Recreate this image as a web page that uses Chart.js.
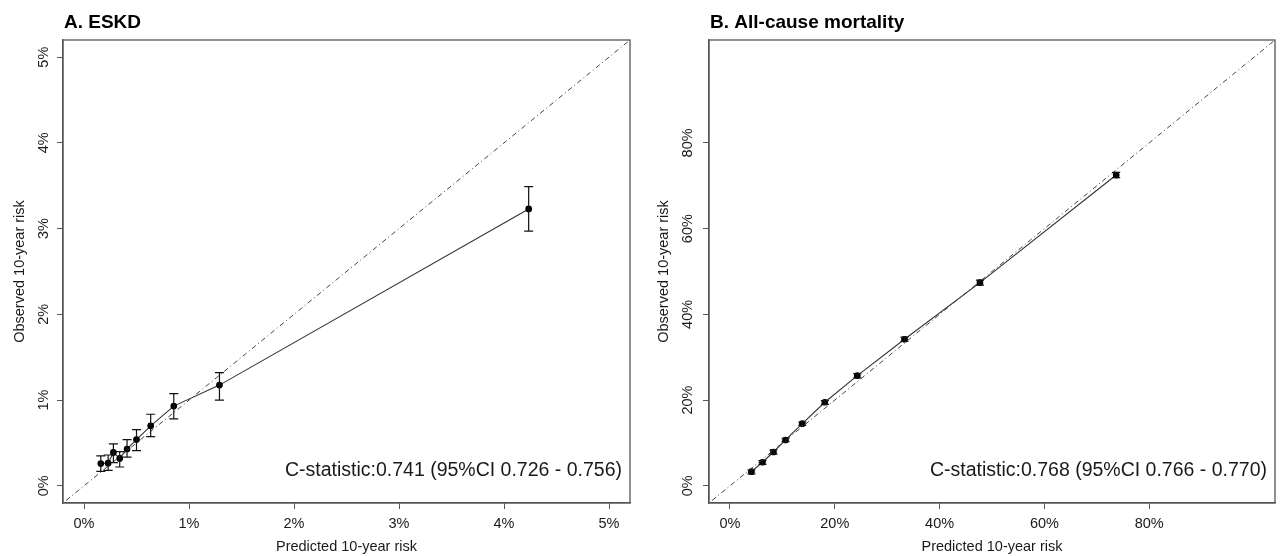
<!DOCTYPE html>
<html>
<head>
<meta charset="utf-8">
<script src="https://cdn.jsdelivr.net/npm/chart.js@4.4.1/dist/chart.umd.min.js"></script>
<style>
  html, body { margin: 0; padding: 0; background: #fff; }
  #wrap { position: relative; width: 1282px; height: 556px; }
  .panel { position: absolute; top: 0; width: 641px; height: 556px; }
</style>
</head>
<body>
<div id="wrap">
  <div class="panel" style="left:0"><canvas id="chartA"></canvas></div>
  <div class="panel" style="left:641px"><canvas id="chartB"></canvas></div>
</div>
<script>
// Panel A - ESKD (values in %)
const predA = [0.16, 0.23, 0.28, 0.34, 0.41, 0.50, 0.635, 0.855, 1.29, 4.235];
const obsA  = [0.26, 0.265, 0.39, 0.32, 0.43, 0.54, 0.70, 0.93, 1.175, 3.23];
const loA   = [0.17, 0.18, 0.27, 0.22, 0.335, 0.41, 0.575, 0.78, 1.00, 2.97];
const hiA   = [0.35, 0.36, 0.49, 0.40, 0.54, 0.655, 0.835, 1.075, 1.32, 3.49];
const ticksA = [0, 1, 2, 3, 4, 5];
const rangeA = [-0.2, 5.2];

// Panel B - all-cause mortality (values in %)
const predB = [4.1, 6.2, 8.3, 10.6, 13.8, 18.1, 24.3, 33.3, 47.7, 73.7];
const obsB  = [3.3, 5.5, 7.9, 10.7, 14.5, 19.5, 25.7, 34.2, 47.4, 72.5];
const loB   = [2.8, 5.0, 7.4, 10.3, 14.1, 19.0, 25.2, 33.7, 46.8, 71.9];
const hiB   = [3.7, 5.9, 8.4, 11.1, 14.9, 19.9, 26.2, 34.7, 48.0, 73.1];
const ticksB = [0, 20, 40, 60, 80];
const rangeB = [-4, 104];

const FONT = '"Liberation Sans", Arial, Helvetica, sans-serif';
const AXIS_COL = '#555';
const TEXT_COL = '#1a1a1a';

// error bars, box, panel title and c-statistic text
const calibExtras = {
  id: 'calibExtras',
  afterDatasetsDraw(chart) {
    const o = chart.options.plugins.calibExtras;
    const xs = chart.scales.x, ys = chart.scales.y;
    const ctx = chart.ctx;
    ctx.save();
    ctx.strokeStyle = '#111';
    ctx.lineWidth = 1.2;
    o.pred.forEach((p, i) => {
      const x = xs.getPixelForValue(p);
      const y1 = ys.getPixelForValue(o.lo[i]);
      const y2 = ys.getPixelForValue(o.hi[i]);
      ctx.beginPath();
      ctx.moveTo(x, y1); ctx.lineTo(x, y2);
      ctx.moveTo(x - o.cap, y1); ctx.lineTo(x + o.cap, y1);
      ctx.moveTo(x - o.cap, y2); ctx.lineTo(x + o.cap, y2);
      ctx.stroke();
    });
    ctx.restore();
  },
  afterDraw(chart) {
    const o = chart.options.plugins.calibExtras;
    const ca = chart.chartArea;
    const ctx = chart.ctx;
    ctx.save();
    ctx.strokeStyle = AXIS_COL;
    ctx.lineWidth = 1.3;
    ctx.strokeRect(ca.left, ca.top, ca.right - ca.left, ca.bottom - ca.top);

    ctx.fillStyle = '#000';
    ctx.font = 'bold 19px ' + FONT;
    ctx.textAlign = 'left';
    ctx.textBaseline = 'alphabetic';
    ctx.fillText(o.title, ca.left + 1, 28);

    ctx.fillStyle = TEXT_COL;
    ctx.font = '19.5px ' + FONT;
    ctx.textAlign = 'right';
    ctx.fillText(o.cstat, ca.right - 8, ca.bottom - 27);
    ctx.restore();
  }
};

function makePanel(id, p) {
  const pts = p.pred.map((v, i) => ({ x: v, y: p.obs[i] }));
  const diag = p.range.map(v => ({ x: v, y: v }));
  return new Chart(document.getElementById(id), {
    type: 'scatter',
    data: {
      datasets: [
        { data: diag, showLine: true, borderColor: '#444', borderWidth: 1,
          borderDash: [1, 3, 5, 3], pointRadius: 0 },
        { data: pts, showLine: true, borderColor: '#333', borderWidth: 1.1,
          pointRadius: 2.8, pointBackgroundColor: '#000', pointBorderColor: '#000' }
      ]
    },
    options: {
      responsive: true,
      maintainAspectRatio: false,
      animation: false,
      layout: { padding: { top: 40, right: p.padRight, left: 0, bottom: 0 } },
      plugins: {
        legend: { display: false },
        tooltip: { enabled: false },
        calibExtras: { pred: p.pred, lo: p.lo, hi: p.hi, cap: p.cap, title: p.title, cstat: p.cstat }
      },
      scales: {
        x: {
          type: 'linear', min: p.range[0], max: p.range[1],
          afterBuildTicks: s => { s.ticks = p.ticks.map(v => ({ value: v })); },
          afterFit: s => { s.height = 53; },
          grid: { drawOnChartArea: false, drawTicks: true, tickLength: 6, color: AXIS_COL },
          border: { display: true, color: AXIS_COL, width: 1.3 },
          ticks: { padding: 6.5, color: TEXT_COL, font: { family: FONT, size: 14.5 },
                   maxRotation: 0, autoSkip: false, callback: v => v + '%' },
          title: { display: true, text: 'Predicted 10-year risk', color: TEXT_COL,
                   font: { family: FONT, size: 14.5 }, padding: { top: 0, bottom: 0.5 } }
        },
        y: {
          type: 'linear', min: p.range[0], max: p.range[1],
          afterBuildTicks: s => { s.ticks = p.ticks.map(v => ({ value: v })); },
          afterFit: s => { s.width = p.yWidth; },
          grid: { drawOnChartArea: false, drawTicks: true, tickLength: 6, color: AXIS_COL },
          border: { display: true, color: AXIS_COL, width: 1.3 },
          ticks: { padding: p.yPad, color: TEXT_COL, font: { family: FONT, size: 14.5 },
                   minRotation: 90, maxRotation: 90, crossAlign: 'center', autoSkip: false,
                   callback: v => v + '%' },
          title: { display: true, text: 'Observed 10-year risk', color: TEXT_COL,
                   font: { family: FONT, size: 14.5 }, padding: { top: p.yTitlePad, bottom: 0 } }
        }
      }
    },
    plugins: [calibExtras]
  });
}

makePanel('chartA', {
  pred: predA, obs: obsA, lo: loA, hi: hiA, ticks: ticksA, range: rangeA,
  title: 'A. ESKD', cstat: 'C-statistic:0.741 (95%CI 0.726 - 0.756)',
  padRight: 11, yWidth: 63, yPad: 2.5, yTitlePad: 11, cap: 4.5
});
makePanel('chartB', {
  pred: predB, obs: obsB, lo: loB, hi: hiB, ticks: ticksB, range: rangeB,
  title: 'B. All-cause mortality', cstat: 'C-statistic:0.768 (95%CI 0.766 - 0.770)',
  padRight: 7, yWidth: 68, yPad: 0, yTitlePad: 14, cap: 4
});
</script>
</body>
</html>
